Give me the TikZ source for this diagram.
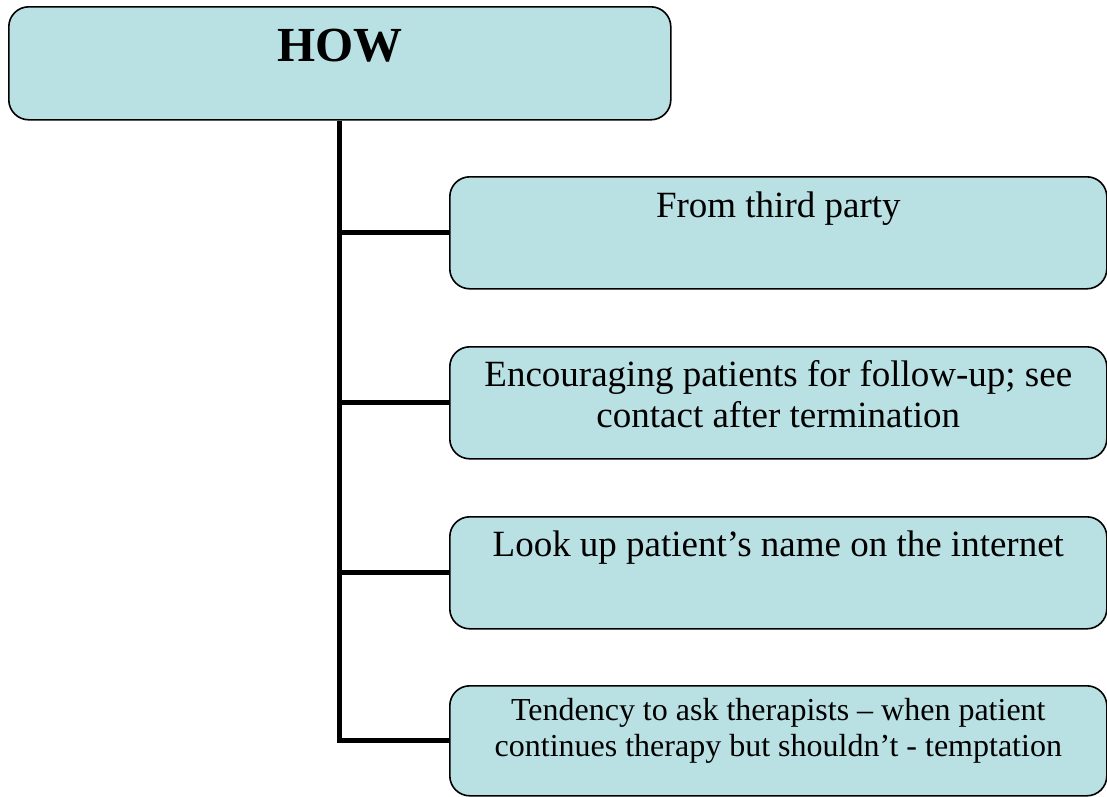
\documentclass[tikz,border=0pt]{standalone}
\usepackage{fontspec}
\setmainfont{Liberation Serif}
\definecolor{howfill}{RGB}{185,224,227}
% fixed-size box text, first baseline #2 below the top edge
\newcommand{\boxtext}[4]{\parbox[t][#1][t]{#3}{\centering\rule{0pt}{#2}#4}}

\begin{document}
\begin{tikzpicture}[x=1pt,y=-1pt,
    box/.style={draw,line width=1.6pt,rounded corners=20pt,fill=howfill,
      inner sep=0pt,anchor=north west},
    stem/.style={line width=5pt}]
  \useasboundingbox (0,0) rectangle (1107,796);
    \path (8,6) node(how) [box] {\boxtext{113pt}{55pt}{662pt}{\fontsize{49}{58}\selectfont\bfseries HOW}}
    (449,176) node(b1) [box] {\boxtext{112pt}{41pt}{657pt}{\fontsize{37}{41}\selectfont From third party}}
    (449,346) node(b2) [box] {\boxtext{112pt}{40pt}{657pt}{\fontsize{37}{41}\selectfont Encouraging patients for follow-up; see\\ contact after termination}}
    (449,516) node(b3) [box] {\boxtext{112pt}{40pt}{657pt}{\fontsize{37}{41}\selectfont Look up patient’s name on the internet}}
    (449,685) node(b4) [box] {\boxtext{110pt}{35pt}{657pt}{\fontsize{32}{36}\selectfont Tendency to ask therapists – when patient\\ continues therapy but shouldn’t - temptation}};
    \draw[stem] (how.south) -- (how.south |- b4.west) -- (b4.west);
    \draw[stem] (how.south |- b1.west) -- (b1.west);
    \draw[stem] (how.south |- b2.west) -- (b2.west);
    \draw[stem] (how.south |- b3.west) -- (b3.west);
  \end{tikzpicture}
\end{document}
